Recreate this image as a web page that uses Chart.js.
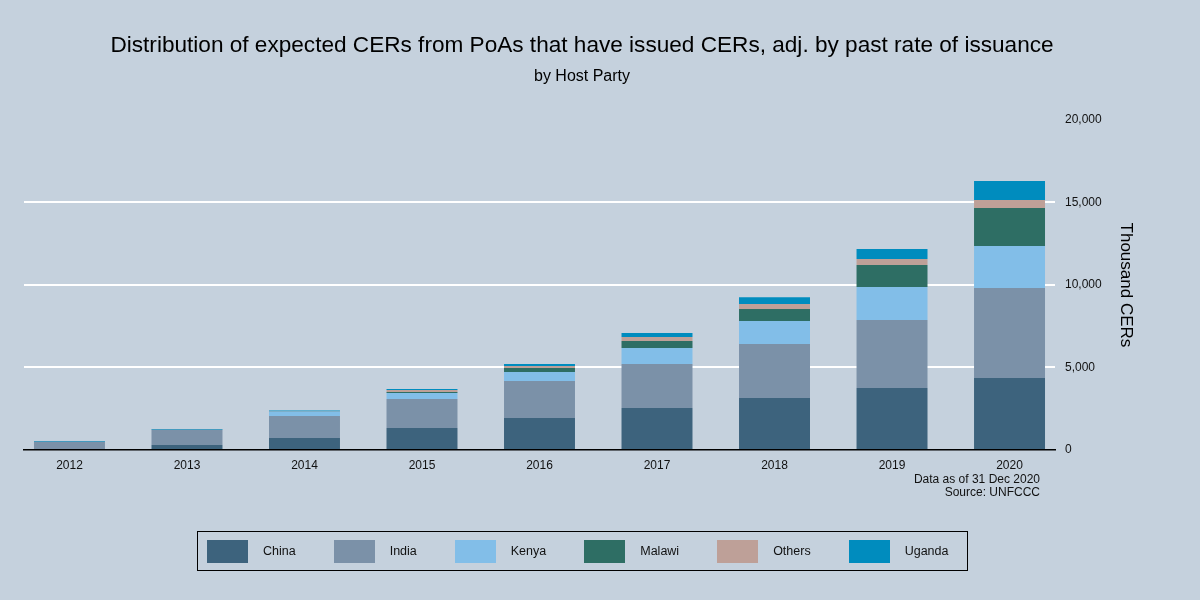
<!DOCTYPE html>
<html>
<head>
<meta charset="utf-8">
<script src="https://cdn.jsdelivr.net/npm/chart.js@4"></script>
<style>
  html, body { margin: 0; padding: 0; background: #c5d1dd; }
  #wrap { position: relative; width: 1200px; height: 600px; }
  #legend {
    position: absolute; left: 197px; top: 531px; width: 760px; height: 38px;
    border: 1px solid #000; display: flex; align-items: center;
    padding-left: 9px; box-sizing: content-box;
    font: 12.5px "Liberation Sans", Arial, sans-serif; color: #111;
  }
  #legend .item { display: flex; align-items: center; margin-right: 38px; }
  #legend .box { width: 41px; height: 23px; margin-right: 15px; }
</style>
</head>
<body>
<div id="wrap">
  <canvas id="cers-chart" width="1200" height="600"></canvas>
  <div id="legend"></div>
</div>
<script>
// years on the x axis
const years = [2012, 2013, 2014, 2015, 2016, 2017, 2018, 2019, 2020];

// thousand CERs per host party
const china  = [0, 300, 730, 1330, 1940, 2545, 3150, 3760, 4360];
const india  = [495, 920, 1330, 1760, 2240, 2670, 3270, 4120, 5450];
const kenya  = [0, 0, 250, 360, 545, 970, 1390, 2000, 2550];
const malawi = [0, 0, 0, 60, 245, 420, 730, 1330, 2300];
const others = [0, 0, 20, 120, 120, 240, 300, 360, 480];
const uganda = [50, 50, 60, 60, 120, 240, 420, 600, 1150];

const yTicks = [0, 5000, 10000, 15000, 20000];

const FONT = '"Liberation Sans", Arial, sans-serif';

const series = [
  { label: 'China',  data: china,  color: '#3d637d' },
  { label: 'India',  data: india,  color: '#7b91a8' },
  { label: 'Kenya',  data: kenya,  color: '#82bee8' },
  { label: 'Malawi', data: malawi, color: '#2e6e64' },
  { label: 'Others', data: others, color: '#bea098' },
  { label: 'Uganda', data: uganda, color: '#008cbe' },
];

// html legend with a border round it
const htmlLegend = {
  id: 'htmlLegend',
  afterUpdate(chart) {
    const box = document.getElementById('legend');
    box.innerHTML = '';
    chart.data.datasets.forEach((ds) => {
      const item = document.createElement('div');
      item.className = 'item';
      const sw = document.createElement('span');
      sw.className = 'box';
      sw.style.background = ds.backgroundColor;
      const txt = document.createElement('span');
      txt.textContent = ds.label;
      item.appendChild(sw);
      item.appendChild(txt);
      box.appendChild(item);
    });
  },
};

// source note under the last bars
const footnote = {
  id: 'footnote',
  afterDraw(chart) {
    const { ctx, chartArea } = chart;
    ctx.save();
    ctx.font = '12px ' + FONT;
    ctx.fillStyle = '#111';
    ctx.textAlign = 'right';
    ctx.textBaseline = 'middle';
    ctx.fillText('Data as of 31 Dec 2020', chartArea.right - 15, chartArea.bottom + 30);
    ctx.fillText('Source: UNFCCC', chartArea.right - 15, chartArea.bottom + 43);
    ctx.restore();
  },
};

const ctx = document.getElementById('cers-chart').getContext('2d');

new Chart(ctx, {
  type: 'bar',
  data: {
    labels: years,
    datasets: series.map((s) => ({
      label: s.label,
      data: s.data,
      backgroundColor: s.color,
      borderWidth: 0,
      categoryPercentage: 1,
      barPercentage: 0.604,
    })),
  },
  options: {
    responsive: false,
    animation: false,
    layout: { padding: { left: 24, right: 60, top: 0, bottom: 0 } },
    plugins: {
      legend: { display: false },
      tooltip: { enabled: false },
      title: {
        display: true,
        text: 'Distribution of expected CERs from PoAs that have issued CERs, adj. by past rate of issuance',
        color: '#000',
        font: { family: FONT, size: 22.6, weight: 'normal' },
        padding: { top: 32, bottom: 8 },
      },
      subtitle: {
        display: true,
        text: 'by Host Party',
        color: '#000',
        font: { family: FONT, size: 16 },
        padding: { top: 0, bottom: 33.5 },
      },
    },
    scales: {
      x: {
        type: 'linear',
        stacked: true,
        offset: false,
        min: 2011.613,
        max: 2020.387,
        afterBuildTicks: (axis) => {
          axis.ticks = years.map((v) => ({ value: v }));
        },
        afterFit: (axis) => {
          axis.height = 150;
        },
        grid: { display: false, drawTicks: false, offset: false },
        border: { display: true, color: '#000', width: 1.5 },
        ticks: {
          padding: 8,
          color: '#111',
          font: { family: FONT, size: 12 },
          callback: (v) => String(v),
        },
      },
      y: {
        position: 'right',
        stacked: true,
        min: 0,
        max: 20000,
        afterBuildTicks: (axis) => {
          axis.ticks = yTicks.map((v) => ({ value: v }));
        },
        afterFit: (axis) => {
          axis.width = 85;
        },
        grid: {
          drawTicks: false,
          lineWidth: 2,
          color: (c) => (c.tick && c.tick.value > 0 && c.tick.value < 20000 ? '#ffffff' : 'rgba(0,0,0,0)'),
        },
        border: { display: false },
        ticks: {
          padding: 10,
          color: '#111',
          font: { family: FONT, size: 12 },
          callback: (v) => v.toLocaleString('en-US'),
        },
        title: {
          display: true,
          text: 'Thousand CERs',
          color: '#000',
          font: { family: FONT, size: 17 },
          padding: { top: 4, bottom: 4 },
        },
      },
    },
  },
  plugins: [htmlLegend, footnote],
});
</script>
</body>
</html>
